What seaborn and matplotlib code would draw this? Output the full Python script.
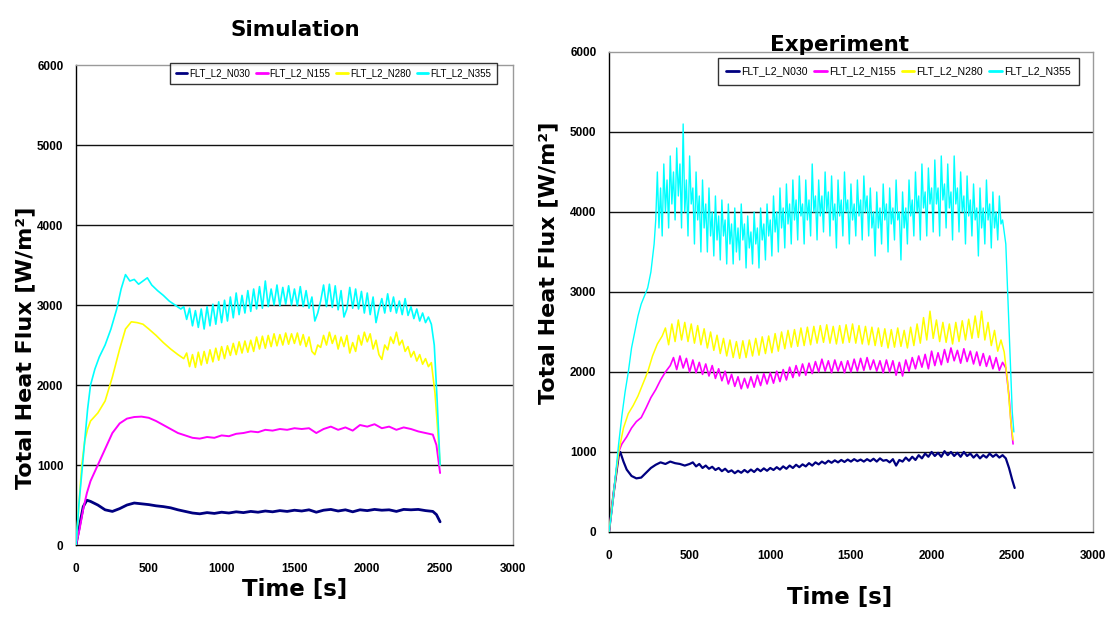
import numpy as np
import pandas as pd
import matplotlib
matplotlib.use("Agg")
import matplotlib.pyplot as plt
import seaborn as sns

# ---------------- data ----------------
series_names = ["FLT_L2_N030", "FLT_L2_N155", "FLT_L2_N280", "FLT_L2_N355"]
series_colors = ["#000080", "#FF00FF", "#FFFF00", "#00FFFF"]
x_ticks = [0, 500, 1000, 1500, 2000, 2500, 3000]
y_ticks = [0, 1000, 2000, 3000, 4000, 5000, 6000]

# Simulation
sim_n030_t = [0, 25, 50, 75, 100, 150, 200, 250, 300, 350, 400, 450, 500, 550, 600, 650, 700, 750, 800,
              850, 900, 950, 1000, 1050, 1100, 1150, 1200, 1250, 1300, 1350, 1400, 1450, 1500, 1550, 1600,
              1650, 1700, 1750, 1800, 1850, 1900, 1950, 2000, 2050, 2100, 2150, 2200, 2250, 2300, 2350,
              2400, 2450, 2475, 2500]
sim_n030_v = [0, 250, 480, 560, 545, 500, 440, 420, 455, 500, 525, 515, 505, 490, 480, 465, 440, 420, 400,
              390, 405, 395, 410, 400, 415, 405, 420, 410, 425, 415, 430, 420, 435, 425, 440,
              410, 435, 445, 425, 440, 415, 440, 430, 445, 435, 440, 420, 445, 440, 445,
              430, 420, 380, 290]

sim_n155_t = sim_n030_t
sim_n155_v = [0, 200, 450, 650, 800, 1000, 1200, 1400, 1520, 1580, 1600, 1605, 1590, 1550, 1500, 1450, 1400,
              1370, 1340, 1330, 1350, 1340, 1370, 1360, 1390, 1400, 1420, 1410, 1440, 1430, 1450, 1440,
              1460, 1450, 1460, 1400, 1450, 1480, 1440, 1470, 1430, 1500, 1480, 1510, 1460, 1480, 1440,
              1470, 1450, 1420, 1400, 1380, 1250, 900]

sim_n280_head_t = [0, 20, 40, 60, 80, 100, 150, 200, 250, 300, 340, 380, 420, 460, 500, 550, 600, 650, 700, 740]
sim_n280_head_v = [0, 500, 1000, 1300, 1450, 1550, 1650, 1800, 2100, 2450, 2700, 2790, 2780, 2760, 2700,
                   2620, 2530, 2450, 2380, 2330]
sim_n280_noisy = [2400, 2230, 2380, 2220, 2410, 2250, 2420, 2270, 2440, 2290, 2460, 2310, 2480, 2330, 2490,
                  2370, 2520, 2380, 2540, 2400, 2550, 2410, 2560, 2420, 2600, 2450, 2610, 2460, 2620, 2480,
                  2640, 2490, 2630, 2500, 2650, 2510, 2640, 2520, 2650, 2500, 2630, 2480, 2600, 2420, 2380,
                  2500, 2470, 2620, 2500, 2660, 2520, 2620, 2450, 2600, 2480, 2620, 2400, 2530, 2420, 2620,
                  2500, 2660, 2540, 2640, 2450, 2560, 2380, 2320, 2500, 2440, 2600, 2520, 2660, 2500, 2560,
                  2420, 2480, 2350, 2420, 2300, 2380, 2260, 2330, 2230, 2280]
sim_n280_noisy_start, sim_n280_noisy_step = 760, 20
sim_n280_tail_t = [2465, 2485, 2500]
sim_n280_tail_v = [1900, 1400, 1000]

sim_n355_head_t = [0, 20, 40, 60, 80, 100, 130, 160, 200, 240, 280, 310, 340, 370, 400, 430, 460, 490, 520,
                   560, 600, 640, 680, 720]
sim_n355_head_v = [0, 500, 900, 1300, 1700, 2000, 2200, 2350, 2500, 2700, 2950, 3200, 3380, 3300, 3320,
                   3260, 3300, 3340, 3250, 3180, 3120, 3050, 3000, 2950]
sim_n355_noisy = [2980, 2820, 2960, 2740, 2930, 2720, 2950, 2700, 2980, 2740, 3010, 2760, 3040, 2780, 3060,
                  2800, 3100, 2840, 3150, 2880, 3120, 2900, 3180, 2920, 3200, 2950, 3230, 2960, 3300, 2980,
                  3200, 3000, 3250, 2990, 3220, 3010, 3240, 3000, 3200, 2990, 3230, 2980, 3180, 2960, 3100,
                  2800, 2900, 3050, 3250, 2980, 3260, 2970, 3240, 2940, 3180, 2850, 2950, 3220, 2960, 3200,
                  2950, 3170, 2900, 3150, 2880, 3100, 2780, 2950, 3080, 2900, 3140, 2920, 3100, 2900, 3050,
                  2880, 3080, 2870, 2980, 2830, 2950, 2800, 2900, 2780, 2850, 2760]
sim_n355_noisy_start, sim_n355_noisy_step = 740, 20
sim_n355_tail_t = [2460, 2480, 2500]
sim_n355_tail_v = [2500, 1800, 1000]

# Experiment
exp_n030_head_t = [0, 30, 60, 70, 90, 110, 140, 170, 200, 230, 260, 290, 320, 350, 380, 410, 440, 470, 500]
exp_n030_head_v = [0, 500, 950, 1000, 880, 780, 700, 670, 680, 740, 800, 840, 870, 850, 880, 860, 850, 830, 850]
exp_n030_noisy = [870, 820, 850, 800, 830, 790, 815, 775, 800, 760, 790, 750, 770, 735, 765, 740, 775, 745,
                  780, 750, 790, 760, 795, 765, 800, 775, 810, 780, 820, 790, 830, 800, 840, 810, 845, 820,
                  860, 830, 870, 845, 880, 855, 890, 865, 895, 870, 900, 875, 905, 880, 910, 885, 905, 880,
                  910, 885, 915, 880, 920, 890, 900, 870, 910, 830, 900, 880, 930, 890, 940, 900, 960, 920,
                  980, 940, 1000, 950, 990, 940, 1010, 960, 1000, 950, 990, 940, 1000, 950, 980, 930, 970,
                  920, 960, 930, 980, 940, 970, 930, 960]
exp_n030_noisy_start, exp_n030_noisy_step = 520, 20
exp_n030_tail_t = [2460, 2480, 2500, 2515]
exp_n030_tail_v = [920, 800, 650, 550]

exp_n155_head_t = [0, 30, 60, 80, 110, 140, 170, 200, 230, 260, 290, 320, 350, 380]
exp_n155_head_v = [0, 500, 1000, 1100, 1190, 1300, 1380, 1430, 1550, 1680, 1780, 1900, 2000, 2080]
exp_n155_noisy = [2180, 2030, 2200, 2050, 2170, 2000, 2150, 1990, 2120, 1970, 2100, 1950, 2080, 1920, 2040,
                  1890, 2010, 1850, 1970, 1820, 1940, 1790, 1920, 1800, 1940, 1810, 1960, 1830, 1980, 1850,
                  1990, 1860, 2010, 1880, 2030, 1900, 2060, 1930, 2080, 1950, 2100, 1960, 2110, 1980, 2130,
                  2000, 2160, 2010, 2140, 1990, 2150, 2010, 2130, 1990, 2140, 2000, 2160, 2010, 2170, 2020,
                  2180, 2030, 2150, 2010, 2140, 1990, 2150, 2000, 2140, 1960, 2120, 1950, 2150, 2010, 2180,
                  2040, 2200, 2060, 2220, 2040, 2260, 2080, 2240, 2090, 2280, 2120, 2300, 2140, 2270, 2110,
                  2290, 2130, 2260, 2100, 2250, 2080, 2230, 2070, 2200, 2040, 2180, 2020, 2120]
exp_n155_noisy_start, exp_n155_noisy_step = 400, 20
exp_n155_tail_t = [2460, 2480, 2495, 2505]
exp_n155_tail_v = [2050, 1700, 1300, 1100]

exp_n280_head_t = [0, 30, 60, 90, 120, 150, 180, 210, 240, 270, 300, 330]
exp_n280_head_v = [0, 500, 1000, 1300, 1480, 1580, 1700, 1850, 2000, 2200, 2350, 2450]
exp_n280_noisy = [2550, 2340, 2600, 2380, 2650, 2400, 2620, 2380, 2600, 2360, 2580, 2340, 2540, 2300, 2500,
                  2270, 2460, 2230, 2420, 2200, 2400, 2180, 2380, 2170, 2390, 2180, 2400, 2200, 2420, 2210,
                  2440, 2230, 2450, 2240, 2480, 2260, 2500, 2290, 2520, 2310, 2530, 2320, 2550, 2330, 2560,
                  2340, 2570, 2360, 2580, 2370, 2590, 2360, 2570, 2350, 2580, 2360, 2590, 2370, 2600, 2360,
                  2580, 2350, 2570, 2340, 2560, 2330, 2550, 2320, 2540, 2300, 2530, 2310, 2550, 2320, 2520,
                  2300, 2560, 2330, 2600, 2360, 2680, 2400, 2760, 2420, 2650, 2380, 2620, 2370, 2600, 2350,
                  2620, 2380, 2640, 2400, 2660, 2420, 2700, 2430, 2760, 2400, 2620, 2330, 2520, 2260, 2400]
exp_n280_noisy_start, exp_n280_noisy_step = 350, 20
exp_n280_tail_t = [2450, 2470, 2490, 2505]
exp_n280_tail_v = [2250, 1900, 1400, 1150]

exp_n355_head_t = [0, 20, 40, 60, 80, 100, 120, 140, 160, 180, 200, 220, 240, 260, 280]
exp_n355_head_v = [0, 300, 700, 1100, 1450, 1750, 2000, 2300, 2500, 2700, 2850, 2950, 3050, 3250, 3600]
exp_n355_noisy = [3900, 4500, 3800, 4300, 3700, 4600, 4000, 4400, 3800, 4700, 4100, 4500, 3900, 4800, 4200,
                  4600, 3800, 5100, 4000, 4400, 3700, 4700, 4100, 4300, 3600, 4500, 3900, 4200, 3500, 4400,
                  3800, 4100, 3500, 4300, 3700, 4000, 3450, 4200, 3650, 3950, 3400, 4150, 3700, 3900, 3350,
                  4100, 3600, 3850, 3350, 4050, 3500, 3800, 3400, 4100, 3650, 3850, 3300, 3950, 3550, 3750,
                  3350, 4000, 3600, 3800, 3300, 4050, 3650, 3850, 3400, 4100, 3700, 3900, 3450, 4200, 3750,
                  4000, 3500, 4300, 3800, 4050, 3550, 4350, 3850, 4100, 3600, 4400, 3900, 4150, 3650, 4450,
                  3950, 4100, 3600, 4400, 3900, 4150, 3700, 4600, 4000, 4200, 3650, 4400, 3950, 4200, 3750,
                  4500, 4000, 4250, 3700, 4450, 3900, 4100, 3550, 4400, 3950, 4150, 3700, 4500, 4000, 4150,
                  3600, 4350, 3900, 4100, 3700, 4400, 3950, 4150, 3650, 4450, 4000, 4200, 3700, 4300, 3800,
                  4000, 3450, 4250, 3800, 4050, 3600, 4350, 3900, 4100, 3500, 4300, 3850, 4050, 3650, 4400,
                  3900, 4000, 3400, 4250, 3800, 4050, 3600, 4400, 3950, 4150, 3700, 4500, 4000, 4200, 3650,
                  4600, 4050, 4250, 3700, 4550, 4100, 4300, 3750, 4650, 4100, 4300, 3700, 4700, 4150, 4350,
                  3800, 4600, 4050, 4250, 3650, 4700, 4100, 4300, 3750, 4500, 4000, 4200, 3600, 4450, 3950,
                  4150, 3700, 4350, 3900, 4050, 3450, 4300, 3800, 4050, 3600, 4400, 3900, 4100, 3550, 4250,
                  3800, 4000, 3650, 4200, 3850, 3900]
exp_n355_noisy_start, exp_n355_noisy_step = 290, 10
exp_n355_tail_t = [2460, 2475, 2490, 2500, 2510]
exp_n355_tail_v = [3600, 2800, 2000, 1500, 1250]


def assemble(head_t, head_v, noisy=None, start=None, step=None, tail_t=None, tail_v=None):
    t = list(head_t)
    v = list(head_v)
    if noisy is not None:
        t += [start + step * i for i in range(len(noisy))]
        v += list(noisy)
    if tail_t is not None:
        t += list(tail_t)
        v += list(tail_v)
    return t, v


def build_frame(parts):
    rows = []
    for name, (t, v) in zip(series_names, parts):
        for order, (ti, vi) in enumerate(zip(t, v)):
            rows.append((name, order, ti, vi))
    return pd.DataFrame(rows, columns=["series", "order", "time", "flux"])


sim_df = build_frame([
    (sim_n030_t, sim_n030_v),
    (sim_n155_t, sim_n155_v),
    assemble(sim_n280_head_t, sim_n280_head_v, sim_n280_noisy, sim_n280_noisy_start,
             sim_n280_noisy_step, sim_n280_tail_t, sim_n280_tail_v),
    assemble(sim_n355_head_t, sim_n355_head_v, sim_n355_noisy, sim_n355_noisy_start,
             sim_n355_noisy_step, sim_n355_tail_t, sim_n355_tail_v),
])
exp_df = build_frame([
    assemble(exp_n030_head_t, exp_n030_head_v, exp_n030_noisy, exp_n030_noisy_start,
             exp_n030_noisy_step, exp_n030_tail_t, exp_n030_tail_v),
    assemble(exp_n155_head_t, exp_n155_head_v, exp_n155_noisy, exp_n155_noisy_start,
             exp_n155_noisy_step, exp_n155_tail_t, exp_n155_tail_v),
    assemble(exp_n280_head_t, exp_n280_head_v, exp_n280_noisy, exp_n280_noisy_start,
             exp_n280_noisy_step, exp_n280_tail_t, exp_n280_tail_v),
    assemble(exp_n355_head_t, exp_n355_head_v, exp_n355_noisy, exp_n355_noisy_start,
             exp_n355_noisy_step, exp_n355_tail_t, exp_n355_tail_v),
])

# ---------------- style ----------------
sns.set_style("white")
plt.rcParams["font.family"] = ["Liberation Sans", "DejaVu Sans"]
plt.rcParams["text.color"] = "black"
plt.rcParams["axes.labelcolor"] = "black"
plt.rcParams["xtick.color"] = "black"
plt.rcParams["ytick.color"] = "black"
tick_font = {"family": ["Liberation Sans", "DejaVu Sans"], "size": 8.5, "weight": "bold"}
label_family = ["DejaVu Sans"]

fig = plt.figure(figsize=(11.09, 6.18), dpi=100)
ax_sim = fig.add_axes([0.0685, 0.1181, 0.394, 0.7767])
ax_exp = fig.add_axes([0.5491, 0.1392, 0.4364, 0.7767])

palette = dict(zip(series_names, series_colors))


def draw(ax, df, widths, legend_anchor, legend_size, legend_pad, xlabel_xy, ylabel_xy):
    for name, lw in zip(series_names, widths):
        sub = df[df["series"] == name]
        sns.lineplot(data=sub, x="time", y="flux", ax=ax, color=palette[name], lw=lw,
                     sort=False, estimator=None, legend=False, label=name, zorder=3)
    ax.set_xlim(0, 3000)
    ax.set_ylim(0, 6000)
    ax.set_xticks(x_ticks)
    ax.set_yticks(y_ticks)
    ax.set_xticklabels([str(v) for v in x_ticks], fontdict=tick_font)
    ax.set_yticklabels([str(v) for v in y_ticks], fontdict=tick_font)
    for yv in y_ticks[1:-1]:
        ax.axhline(yv, color="#111111", lw=1.0, zorder=1)
    ax.tick_params(axis="both", direction="inout", length=6, width=1, color="black", pad=6)
    ax.tick_params(axis="x", pad=10)
    for side in ["left", "bottom"]:
        ax.spines[side].set_color("black")
        ax.spines[side].set_linewidth(1.0)
    for side in ["top", "right"]:
        ax.spines[side].set_color("#9a9a9a")
        ax.spines[side].set_linewidth(1.0)
    ax.set_xlabel("Time [s]", fontsize=16.5, fontweight="bold", family=label_family)
    ax.set_ylabel("Total Heat Flux [W/m²]", fontsize=16, fontweight="bold", family=label_family)
    ax.xaxis.set_label_coords(*xlabel_xy)
    ax.yaxis.set_label_coords(*ylabel_xy)
    handles = [plt.Line2D([0], [0], color=palette[n], lw=2) for n in series_names]
    leg = ax.legend(handles, series_names, loc="upper left", bbox_to_anchor=legend_anchor,
                    ncol=4, frameon=True, fancybox=False, shadow=False,
                    prop={"family": ["Liberation Sans", "DejaVu Sans"], "size": legend_size},
                    handlelength=1.2, handletextpad=0.2, columnspacing=0.6,
                    borderpad=legend_pad, borderaxespad=0.0)
    leg.get_frame().set_edgecolor("black")
    leg.get_frame().set_linewidth(1.0)
    leg.set_zorder(5)


draw(ax_sim, sim_df, [2.0, 1.4, 1.2, 1.2], (0.215, 1.005), 7.0, 0.6, (0.501, -0.068), (-0.094, 0.41))
draw(ax_exp, exp_df, [1.6, 1.2, 1.1, 1.0], (0.225, 0.9875), 7.6, 0.8, (0.477, -0.112), (-0.105, 0.56))

fig.text(0.266, 0.951, "Simulation", ha="center", va="center", fontsize=15.5, fontweight="bold",
         family=label_family)
fig.text(0.757, 0.927, "Experiment", ha="center", va="center", fontsize=15.5, fontweight="bold",
         family=label_family)

fig.savefig("out.png", dpi=100)
